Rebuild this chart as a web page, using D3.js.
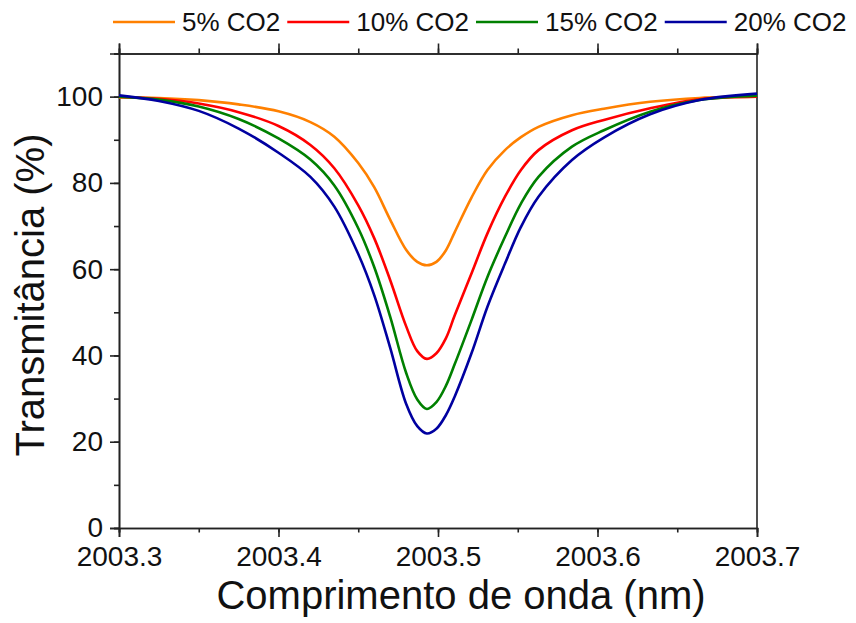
<!DOCTYPE html>
<html>
<head>
<meta charset="utf-8">
<script src="https://cdn.jsdelivr.net/npm/d3@7"></script>
<style>
  body { margin: 0; background: #fff; }
  text { font-family: Arial, "Liberation Sans", sans-serif; fill: #111; }
</style>
</head>
<body>
<div id="my_dataviz"></div>
<script>
// data
var wavelength = [2003.300, 2003.325, 2003.350, 2003.375, 2003.400, 2003.420, 2003.435, 2003.450,
                  2003.460, 2003.470, 2003.480, 2003.487, 2003.493, 2003.499, 2003.505, 2003.5105,
                  2003.521, 2003.531, 2003.542, 2003.552, 2003.563, 2003.584, 2003.604, 2003.633,
                  2003.664, 2003.700];
var co2_5  = [99.8, 99.7, 99.2, 98.2, 96.6, 94.1, 90.7, 84.6, 79.0, 71.5, 64.5, 61.7, 60.9, 61.7, 64.4, 68.6,
              76.6, 83.0, 87.6, 90.6, 93.0, 95.7, 97.2, 98.8, 99.7, 100.0];
var co2_10 = [99.9, 99.5, 98.4, 96.4, 93.2, 88.8, 83.4, 74.8, 67.2, 57.5, 46.8, 41.0, 39.2, 40.5, 44.0, 49.3,
              59.0, 68.3, 76.8, 83.0, 87.6, 92.2, 94.6, 97.3, 99.4, 100.0];
var co2_15 = [100.0, 99.3, 97.7, 94.8, 90.3, 85.4, 79.4, 69.5, 60.5, 49.0, 36.0, 29.8, 27.6, 29.2, 33.0, 38.0,
              48.2, 58.2, 67.5, 75.2, 81.4, 88.4, 92.2, 96.5, 99.2, 100.2];
var co2_20 = [100.3, 99.0, 96.7, 92.6, 87.0, 81.4, 74.5, 63.5, 54.0, 41.8, 28.8, 23.6, 21.9, 23.0, 26.2, 30.5,
              40.5, 51.3, 61.3, 69.8, 76.8, 85.3, 90.5, 95.9, 99.2, 100.7];
var seriesNames = ["5% CO2", "10% CO2", "15% CO2", "20% CO2"];
var seriesValues = [co2_5, co2_10, co2_15, co2_20];
var colors = ["#ff8000", "#ff0000", "#008000", "#0000a0"];
var xTicks = [2003.3, 2003.4, 2003.5, 2003.6, 2003.7];
var yTicks = [0, 20, 40, 60, 80, 100];

// set margin, width & height
var margin = {top: 53.5, right: 99, bottom: 95, left: 119},
    width = 856 - margin.left - margin.right,
    height = 623 - margin.top - margin.bottom;

var svg0 = d3.select("#my_dataviz")
    .append("svg")
    .attr("width", 856)
    .attr("height", 623);

var svg = svg0.append("g")
    .attr("transform", "translate(" + margin.left + "," + margin.top + ")");

var x = d3.scaleLinear().domain([2003.3, 2003.7]).range([0, width]);
var y = d3.scaleLinear().domain([0, 110]).range([height, 0]);

var axisColor = "#222";

// minor ticks
var xMinor = d3.range(2003.3, 2003.71, 0.05);
var yMinor = d3.range(0, 111, 10);

// bottom axis
var gx = svg.append("g")
    .attr("transform", "translate(0," + height + ")")
    .call(d3.axisBottom(x).tickValues(xMinor).tickSize(4.5).tickFormat(""));
gx.append("g")
    .call(d3.axisBottom(x).tickValues(xTicks).tickSize(9).tickPadding(8).tickFormat(d3.format(".1f")));

// top axis (no labels, ticks up)
var gt = svg.append("g")
    .call(d3.axisTop(x).tickValues(xMinor).tickSize(5).tickFormat(""));
gt.append("g")
    .call(d3.axisTop(x).tickValues(xTicks).tickSize(10).tickFormat(""));

// left axis
var gy = svg.append("g")
    .call(d3.axisLeft(y).tickValues(yMinor).tickSize(5).tickFormat(""));
gy.append("g")
    .call(d3.axisLeft(y).tickValues(yTicks).tickSize(9).tickPadding(7));

// right axis, plain line
svg.append("line")
    .attr("x1", width).attr("x2", width)
    .attr("y1", 0).attr("y2", height)
    .attr("stroke", axisColor)
    .attr("stroke-width", 1.6);

svg.selectAll(".domain, .tick line")
    .attr("stroke", axisColor)
    .attr("stroke-width", 1.6);
svg.selectAll(".tick text")
    .style("font-size", "28px")
    .attr("fill", "#111");
gx.selectAll(".tick text").attr("dy", "0.75em");

// lines
var line = d3.line()
    .x(function(d) { return x(d[0]); })
    .y(function(d) { return y(d[1]); })
    .curve(d3.curveCatmullRom.alpha(0.5));

seriesValues.forEach(function(vals, i) {
    var pts = wavelength.map(function(w, j) { return [w, vals[j]]; });
    svg.append("path")
        .datum(pts)
        .attr("fill", "none")
        .attr("stroke", colors[i])
        .attr("stroke-width", 2.6)
        .attr("d", line);
});

// axis titles
svg0.append("text")
    .attr("x", 461)
    .attr("y", 609)
    .attr("text-anchor", "middle")
    .style("font-size", "40px")
    .text("Comprimento de onda (nm)");

svg0.append("text")
    .attr("transform", "translate(44," + 295 + ") rotate(-90)")
    .attr("text-anchor", "middle")
    .style("font-size", "40px")
    .text("Transmitância (%)");

// legend
var lx = 113;
seriesNames.forEach(function(name, i) {
    svg0.append("line")
        .attr("x1", lx).attr("x2", lx + 62)
        .attr("y1", 22).attr("y2", 22)
        .attr("stroke", colors[i])
        .attr("stroke-width", 2.6);
    var t = svg0.append("text")
        .attr("x", lx + 69)
        .attr("y", 31)
        .style("font-size", "26px")
        .text(name);
    lx = lx + 69 + t.node().getComputedTextLength() + 7;
});
</script>
</body>
</html>
